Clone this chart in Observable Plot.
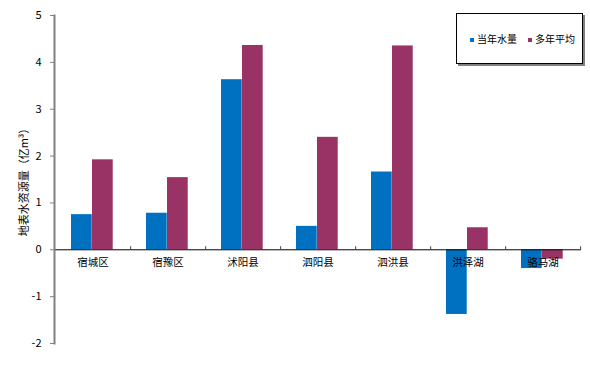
<!DOCTYPE html>
<html><head><meta charset="utf-8">
<script src="https://cdn.jsdelivr.net/npm/d3@7"></script>
<script src="https://cdn.jsdelivr.net/npm/@observablehq/plot@0.6"></script>
<style>
body{margin:0;background:#fff;font-family:"Noto Sans CJK SC","Noto Sans",sans-serif;}
#wrap{position:relative;width:590px;height:369px;overflow:hidden;}
#legend{position:absolute;left:456px;top:13px;width:125px;height:49px;border:1px solid #000;box-shadow:2px 2px 0 #808080;background:#fff;font-size:10px;color:#000;}
.sw{position:absolute;width:4px;height:4px;top:24px;}
.lt{position:absolute;top:17px;line-height:16px;white-space:nowrap;}
</style>
</head><body>
<div id="wrap"><div id="chart"></div><div id="legend"></div></div>
<script>
const categories = ["宿城区","宿豫区","沭阳县","泗阳县","泗洪县","洪泽湖","骆马湖"];
const currentYear = [0.75, 0.78, 3.63, 0.50, 1.66, -1.38, -0.40];
const multiYearAvg = [1.92, 1.54, 4.36, 2.40, 4.35, 0.47, -0.20];
const seriesNames = ["当年水量","多年平均"];
const seriesColors = ["#0070C0","#993366"];
const yTicks = [-2,-1,0,1,2,3,4,5];
const yLabel = "地表水资源量（亿m³）";

const rows = categories.flatMap((c,i)=>[
  {category:c, series:seriesNames[0], value:currentYear[i]},
  {category:c, series:seriesNames[1], value:multiYearAvg[i]}
]);
const W=590,H=369,ML=54,MR=9,MT=15,MB=26;
const bw=(W-ML-MR)/categories.length;

const chart = Plot.plot({
  width:W, height:H, marginTop:MT, marginBottom:MB, marginLeft:ML, marginRight:MR,
  style:{fontFamily:'"Noto Sans CJK SC","Noto Sans",sans-serif', fontSize:"11px", color:"#000", background:"#fff"},
  x:{domain:categories, padding:0, axis:null},
  y:{domain:[-2,5]},
  marks:[
    Plot.barY(rows.filter(d=>d.series===seriesNames[0]), {x:"category", y:"value", fill:seriesColors[0], insetLeft:16, insetRight:bw-37}),
    Plot.barY(rows.filter(d=>d.series===seriesNames[1]), {x:"category", y:"value", fill:seriesColors[1], insetLeft:37, insetRight:bw-58}),
    Plot.ruleY([0], {stroke:"#000", strokeWidth:1}),
    Plot.ruleX(categories, {x:d=>d, y1:0, y2:0.065, dx:bw/2, stroke:"#444"}),
    Plot.text(categories, {x:d=>d, y:()=>0, dy:13, text:d=>d, fontSize:10.5, fill:"#000"}),
    Plot.axisY({ticks:yTicks, tickFormat:d=>String(d), tickSize:4, tickPadding:9, stroke:"#808080", fontSize:11, label:null}),
    Plot.axisY({ticks:[], label:yLabel, labelAnchor:"center", labelOffset:34, labelArrow:"none", fontSize:11}),
    Plot.frame({anchor:"left", stroke:"#808080", strokeWidth:2})
  ]
});
document.getElementById("chart").appendChild(chart);

const lg=document.getElementById("legend");
const items=[{x:13,tx:20},{x:71,tx:78}];
seriesNames.forEach((n,i)=>{
  const s=document.createElement("div"); s.className="sw"; s.style.left=items[i].x+"px"; s.style.background=seriesColors[i]; lg.appendChild(s);
  const t=document.createElement("div"); t.className="lt"; t.style.left=items[i].tx+"px"; t.textContent=n; lg.appendChild(t);
});
</script>
</body></html>
